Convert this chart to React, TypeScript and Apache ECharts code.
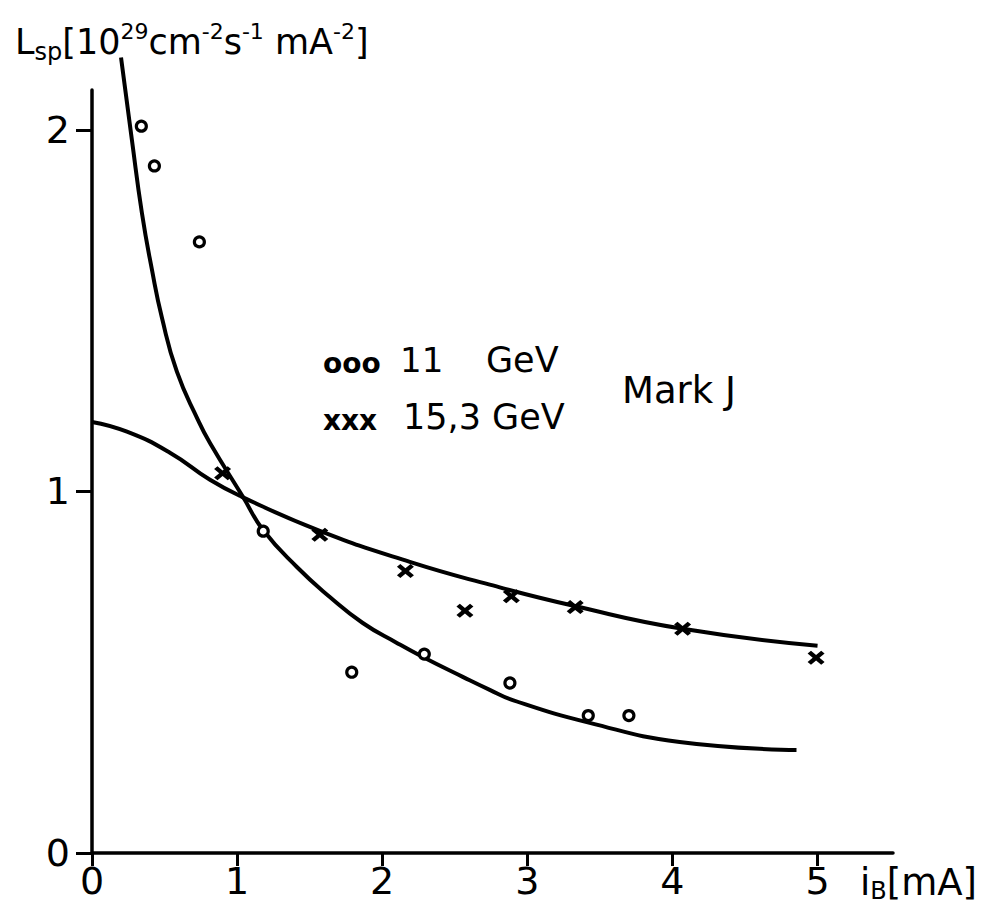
import React, { useEffect, useRef } from "react";
import * as echarts from "echarts";

// 11 GeV measurements (circles)
const circleX = [0.34, 0.43, 0.74, 1.18, 1.79, 2.29, 2.88, 3.42, 3.70];
const circleY = [2.01, 1.90, 1.69, 0.89, 0.50, 0.55, 0.47, 0.38, 0.38];
// 15,3 GeV measurements (crosses)
const crossX = [0.90, 1.57, 2.16, 2.57, 2.89, 3.33, 4.07, 4.99];
const crossY = [1.05, 0.88, 0.78, 0.67, 0.71, 0.68, 0.62, 0.54];
// fitted curve through 11 GeV data
const fit11X = [0.20, 0.275, 0.344, 0.413, 0.482, 0.585, 0.73, 0.813, 1.04, 1.178, 1.412, 1.639, 1.866, 2.101, 2.28, 2.555, 2.741, 2.899, 3.43, 4.05, 4.855];
const fit11Y = [2.20, 1.972, 1.77, 1.613, 1.48, 1.331, 1.198, 1.134, 0.985, 0.894, 0.791, 0.708, 0.636, 0.581, 0.542, 0.487, 0.451, 0.423, 0.36, 0.307, 0.285];
// fitted curve through 15,3 GeV data
const fit15X = [0, 0.241, 0.537, 0.813, 1.033, 1.57, 2.19, 2.741, 3.326, 4.07, 5.0];
const fit15Y = [1.192, 1.165, 1.107, 1.032, 0.985, 0.891, 0.805, 0.742, 0.683, 0.62, 0.573];
// axis ticks
const xTicks = [0, 1, 2, 3, 4, 5];
const yTicks = [0, 1, 2];

const FONT = "DejaVu Sans";

export default function App() {
  const ref = useRef<HTMLDivElement>(null);
  useEffect(() => {
    const el = ref.current!;
    const chart = echarts.init(el, undefined, { renderer: "svg" });
    const zip = (xs: number[], ys: number[]) => xs.map((x, i) => [x, ys[i]]);
    const crossPath =
      "path://M2,0 L5,3 L8,0 L10,2 L7,5 L10,8 L8,10 L5,7 L2,10 L0,8 L3,5 L0,2 Z";
    chart.setOption({
      animation: false,
      backgroundColor: "#ffffff",
      grid: { left: 92, right: 103, top: 90, bottom: 57, containLabel: false, outerBoundsMode: "none" },
      xAxis: {
        type: "value",
        min: 0,
        max: 5.52,
        interval: 1,
        axisLine: { lineStyle: { color: "#000", width: 3.5 } },
        axisTick: { show: true, length: 13, lineStyle: { color: "#000", width: 3 }, customValues: xTicks },
        axisLabel: { color: "#000", fontSize: 38, fontFamily: FONT, margin: 9, customValues: xTicks },
        splitLine: { show: false },
      },
      yAxis: {
        type: "value",
        min: 0,
        max: 2.11,
        interval: 1,
        axisLine: { show: true, lineStyle: { color: "#000", width: 3.5 } },
        axisTick: { show: true, length: 16, lineStyle: { color: "#000", width: 3 }, customValues: yTicks },
        axisLabel: { color: "#000", fontSize: 38, fontFamily: FONT, margin: 22, customValues: yTicks },
        splitLine: { show: false },
      },
      series: [
        {
          name: "fit 11 GeV",
          type: "line",
          data: zip(fit11X, fit11Y),
          smooth: 0.5,
          showSymbol: false,
          clip: false,
          lineStyle: { color: "#000", width: 4 },
        },
        {
          name: "fit 15,3 GeV",
          type: "line",
          data: zip(fit15X, fit15Y),
          smooth: 0.5,
          showSymbol: false,
          clip: false,
          lineStyle: { color: "#000", width: 4 },
        },
        {
          name: "11 GeV",
          type: "scatter",
          data: zip(circleX, circleY),
          symbol: "circle",
          symbolSize: 10,
          itemStyle: { color: "#fff", borderColor: "#000", borderWidth: 3.2, opacity: 1 },
          z: 5,
        },
        {
          name: "15,3 GeV",
          type: "scatter",
          data: zip(crossX, crossY),
          symbol: crossPath,
          symbolSize: [17, 14],
          itemStyle: { color: "#000", opacity: 1 },
          z: 5,
        },
      ],
      graphic: [
        {
          type: "text",
          left: 15,
          top: 20,
          style: {
            text: "{m|L}{sub|sp}{m|[10}{sup|29}{m|cm}{sup|-2}{m|s}{sup|-1}{m| mA}{sup|-2}{m|]}",
            fill: "#000",
            rich: {
              m: { fontSize: 35, fontFamily: FONT, lineHeight: 44, fill: "#000" },
              sup: { fontSize: 22, fontFamily: FONT, lineHeight: 24, verticalAlign: "top", fill: "#000" },
              sub: { fontSize: 24, fontFamily: FONT, lineHeight: 24, verticalAlign: "bottom", fill: "#000" },
            },
          },
        },
        {
          type: "text",
          left: 860,
          top: 864,
          style: {
            text: "{m|i}{sub|B}{m|[mA]}",
            fill: "#000",
            rich: {
              m: { fontSize: 37, fontFamily: FONT, lineHeight: 40, fill: "#000" },
              sub: { fontSize: 24, fontFamily: FONT, lineHeight: 24, verticalAlign: "bottom", fill: "#000" },
            },
          },
        },
        { type: "text", x: 323, y: 363, style: { text: "ooo", fontSize: 28, fontWeight: "bold", fontFamily: FONT, fill: "#000", verticalAlign: "middle" } },
        { type: "text", x: 400, y: 360, style: { text: "11", fontSize: 34, fontFamily: FONT, fill: "#000", verticalAlign: "middle" } },
        { type: "text", x: 486, y: 360, style: { text: "GeV", fontSize: 35, fontFamily: FONT, fill: "#000", verticalAlign: "middle" } },
        { type: "text", x: 323, y: 420, style: { text: "xxx", fontSize: 28, fontWeight: "bold", fontFamily: FONT, fill: "#000", verticalAlign: "middle" } },
        { type: "text", x: 403, y: 417, style: { text: "15,3 GeV", fontSize: 35, fontFamily: FONT, fill: "#000", verticalAlign: "middle" } },
        { type: "text", x: 622, y: 390, style: { text: "Mark J", fontSize: 37, fontFamily: FONT, fill: "#000", verticalAlign: "middle" } },
      ],
    });
    return () => chart.dispose();
  }, []);
  return (
    <div
      ref={ref}
      style={{ position: "fixed", left: 0, top: 0, width: 996, height: 910, background: "#fff" }}
    />
  );
}
